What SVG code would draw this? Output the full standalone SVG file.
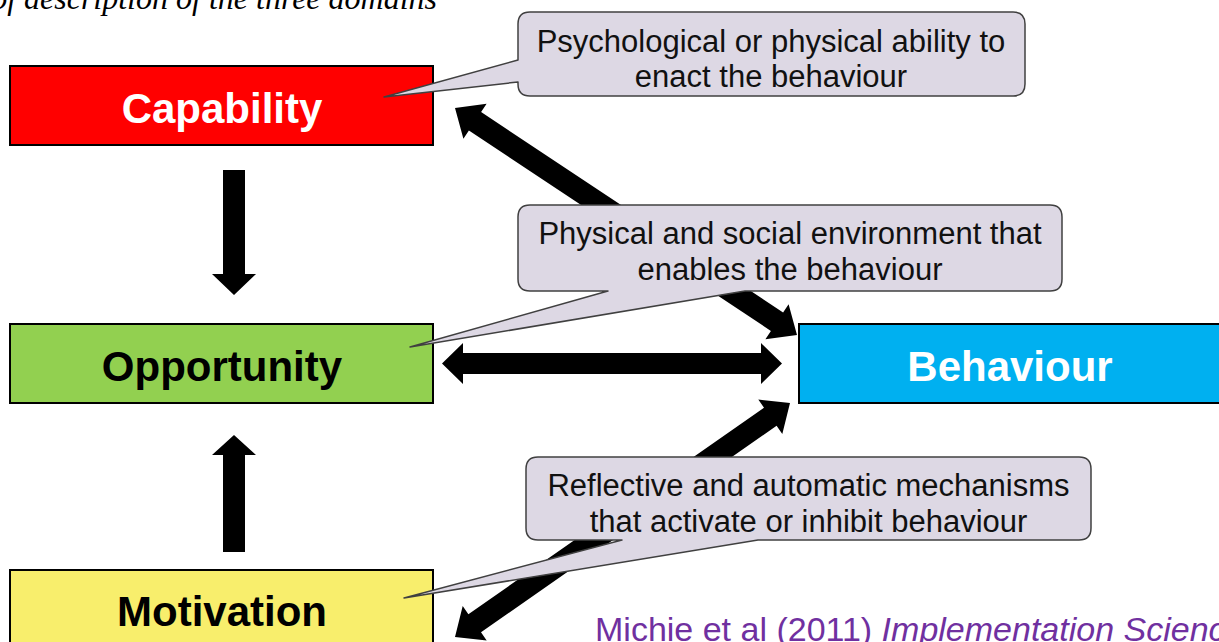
<svg xmlns="http://www.w3.org/2000/svg" width="1219" height="642" viewBox="0 0 1219 642">
<style>
.box{stroke:#000;stroke-width:2}
.lbl{font-family:"Liberation Sans",Arial,sans-serif;font-weight:bold;font-size:42px;text-anchor:middle}
.call{fill:#DDD8E4;stroke:#404040;stroke-width:1.5;stroke-linejoin:round}
.ct{font-family:"Liberation Sans",Arial,sans-serif;font-size:31px;text-anchor:middle;fill:#111}
.arr{fill:#000}
</style>
<rect width="1219" height="642" fill="#fff"/>
<text x="437" y="9" font-family="'Liberation Serif','Times New Roman',serif" font-style="italic" font-size="32" text-anchor="end" fill="#000">of description of the three domains</text>

<g id="connectors">
<polygon class="arr" points="223,170 245,170 245,274 256,274 234,295 212,274 223,274"/>
<polygon class="arr" points="234,435 256,455 245,455 245,552 223,552 223,455 212,455"/>
<polygon class="arr" points="442,363.5 463,343 463,353 761,353 761,343 782,363.5 761,384 761,374 463,374 463,384"/>
<polygon class="arr" points="455,108 463.4,138.8 468.9,130.5 770.9,330.9 765.4,339.2 797,335 788.6,304.2 783.1,312.5 481.1,112.1 486.6,103.8"/>
<polygon class="arr" points="455,637 486.7,640.5 481,632.3 776.6,425.7 782.3,433.9 790,403 758.3,399.5 764,407.7 468.4,614.3 462.7,606.1"/>
</g>

<g id="capability">
<rect class="box" x="10" y="66" width="423" height="79" fill="#FF0000"/>
<text class="lbl" x="222" y="123" fill="#fff">Capability</text>
</g>
<g id="opportunity">
<rect class="box" x="10" y="324" width="423" height="79" fill="#92D050"/>
<text class="lbl" x="222" y="381" fill="#000">Opportunity</text>
</g>
<g id="motivation">
<rect class="box" x="10" y="570" width="423" height="79" fill="#F8EE6C"/>
<text class="lbl" x="222" y="626" fill="#000">Motivation</text>
</g>
<g id="behaviour">
<rect class="box" x="799" y="324" width="423" height="79" fill="#00B0F0"/>
<text class="lbl" x="1010" y="381" fill="#fff">Behaviour</text>
</g>

<g id="callout-capability">
<path class="call" d="M530,12 H1013 Q1025,12 1025,24 V84 Q1025,96 1013,96 H530 Q518,96 518,84 V82 L384,97 L518,60 V24 Q518,12 530,12 Z"/>
<text class="ct" x="771" y="52">Psychological or physical ability to</text>
<text class="ct" x="771" y="87">enact the behaviour</text>
</g>
<g id="callout-opportunity">
<path class="call" d="M530,205 H1050 Q1062,205 1062,217 V279 Q1062,291 1050,291 H745 L410,347 L608,291 H530 Q518,291 518,279 V217 Q518,205 530,205 Z"/>
<text class="ct" x="790" y="244">Physical and social environment that</text>
<text class="ct" x="790" y="280">enables the behaviour</text>
</g>
<g id="callout-motivation">
<path class="call" d="M538,457 H1079 Q1091,457 1091,469 V528 Q1091,540 1079,540 H758 L404,598 L622,540 H538 Q526,540 526,528 V469 Q526,457 538,457 Z"/>
<text class="ct" x="808.5" y="496">Reflective and automatic mechanisms</text>
<text class="ct" x="808.5" y="532">that activate or inhibit behaviour</text>
</g>

<text x="595" y="641" font-family="'Liberation Sans',Arial,sans-serif" font-size="34" fill="#7030A0">Michie et al (2011) <tspan font-style="italic">Implementation Science</tspan></text>
</svg>
